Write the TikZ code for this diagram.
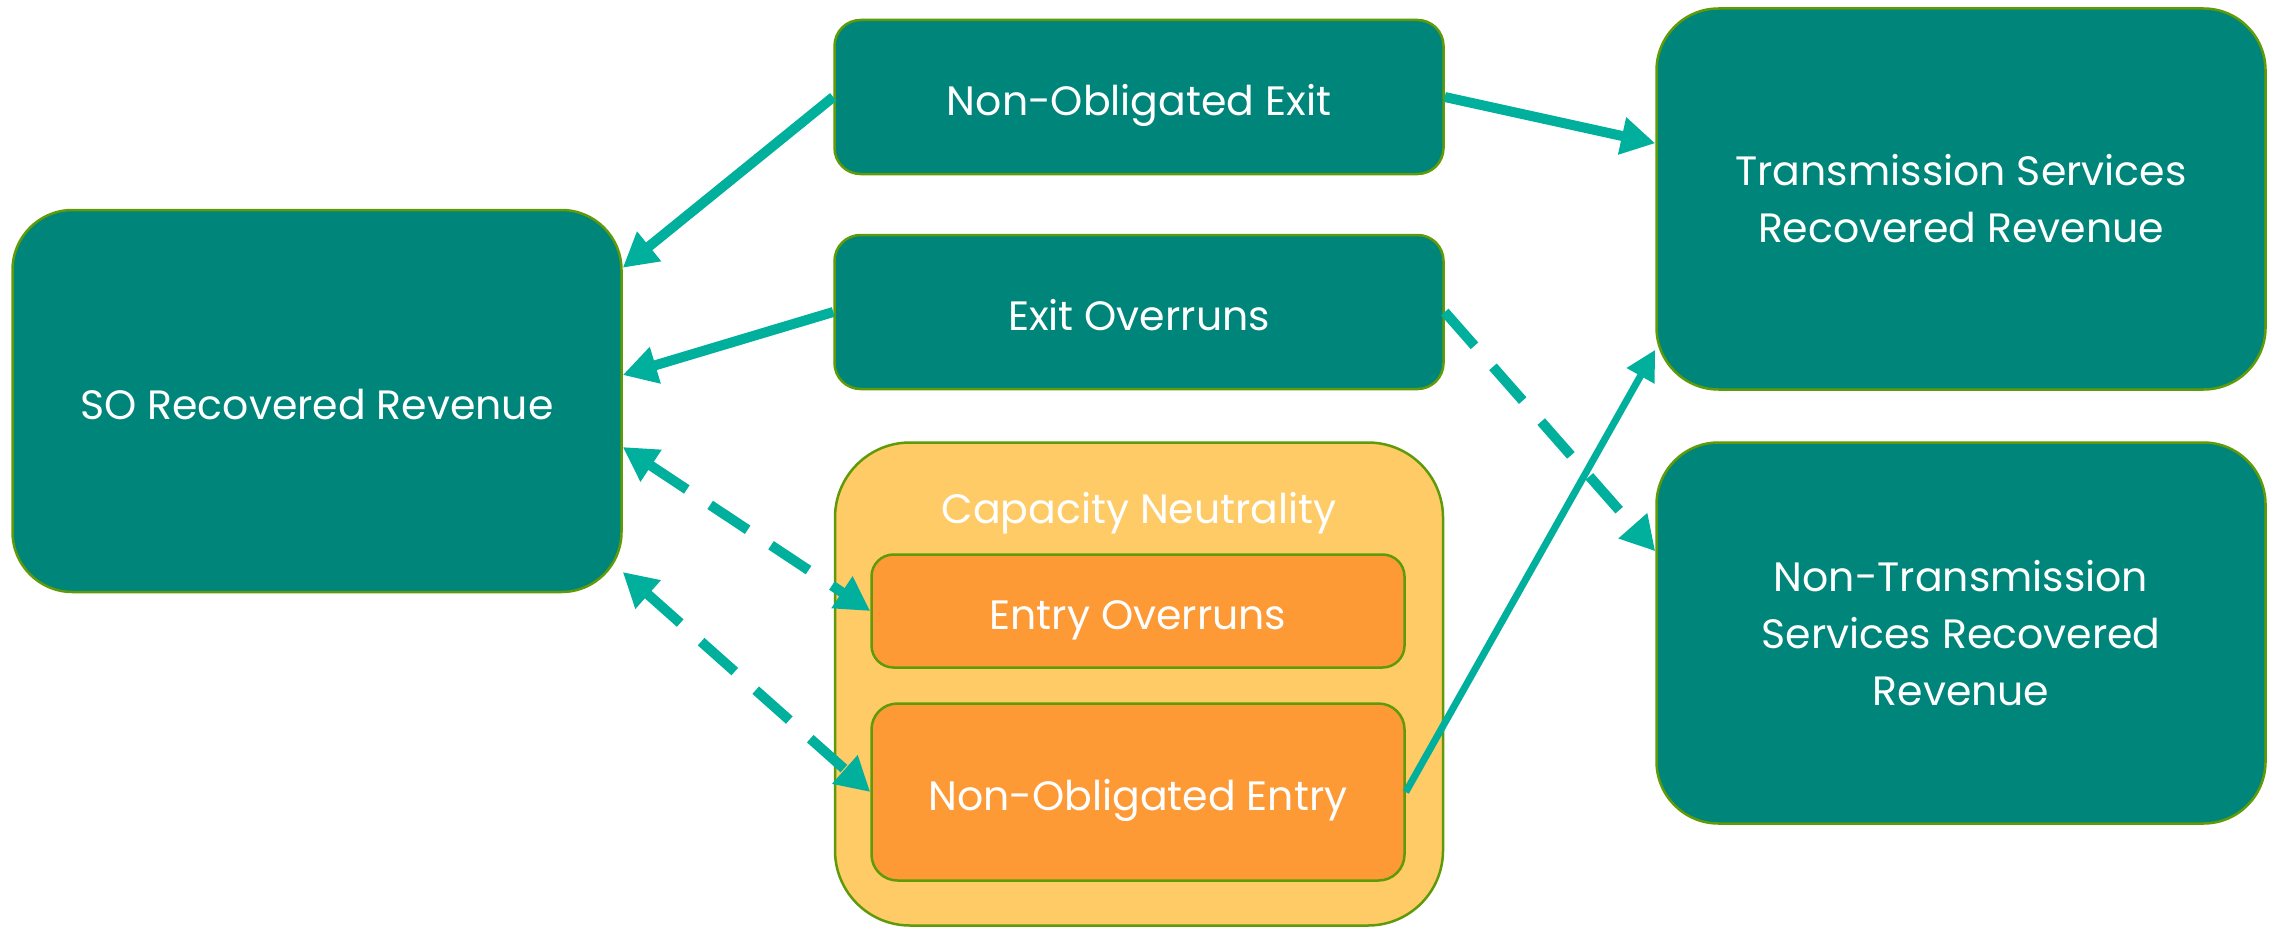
\documentclass[tikz,border=0pt]{standalone}
\usepackage{fontspec}
\setmainfont{Poppins}
\usetikzlibrary{arrows.meta,calc}
\definecolor{tealbox}{HTML}{00857A}
\definecolor{edgegreen}{HTML}{5F9A08}
\definecolor{arrowteal}{HTML}{00B09D}
\definecolor{capfill}{HTML}{FECB66}
\definecolor{orangebox}{HTML}{FE9A36}
\tikzset{
  box/.style={draw=edgegreen, line width=2.5pt, fill=tealbox, text=white, align=center,
    font=\fontsize{41}{57}\selectfont, inner sep=0pt},
  oneline/.style={text height=37pt, text depth=0pt},
  obox/.style={box, fill=orangebox},
  conn/.style={draw=arrowteal, line width=10pt, -{Triangle[length=34pt,width=36pt]}},
  thinconn/.style={draw=arrowteal, line width=7pt, -{Triangle[length=30pt,width=30pt]}},
  dconn/.style={draw=arrowteal, line width=10pt, dash pattern=on 45pt off 28pt,
    {Triangle[length=34pt,width=36pt]}-{Triangle[length=34pt,width=36pt]}},
}
\begin{document}
\begin{tikzpicture}[x=1pt,y=-1pt]
\useasboundingbox (0,0) rectangle (2282,931);
% boxes
\node[box, oneline, rounded corners=60pt, minimum width=609pt, minimum height=382pt] (so) at (317,401) {SO Recovered Revenue};
\node[box, oneline, rounded corners=26pt, minimum width=609pt, minimum height=154pt] (ne) at (1139,97) {Non-Obligated Exit};
\node[box, oneline, rounded corners=26pt, minimum width=609pt, minimum height=154pt] (eo) at (1139,312) {Exit Overruns};
\node[box, fill=capfill, rounded corners=75pt, minimum width=608pt, minimum height=483pt] (cap) at (1139,684) {};
\node[text=white, font=\fontsize{41}{57}\selectfont, inner sep=0pt, oneline] (captitle) at (1139,505) {Capacity Neutrality};
\node[obox, oneline, rounded corners=22pt, minimum width=533pt, minimum height=113pt] (eov) at (1138,611) {Entry Overruns};
\node[obox, oneline, rounded corners=26pt, minimum width=533pt, minimum height=177pt] (noe) at (1138,792) {Non-Obligated Entry};
\node[box, rounded corners=62pt, minimum width=609pt, minimum height=381pt] (tr) at (1961,199) {Transmission Services\\Recovered Revenue};
\node[box, rounded corners=62pt, minimum width=609pt, minimum height=381pt] (ntr) at (1961,633) {Non-Transmission\\Services Recovered\\Revenue};
% connectors
\draw[conn] (ne.west) -- ([yshift=-59pt]so.north east);
\draw[conn] (eo.west) -- ([yshift=26pt]so.east);
\draw[dconn] ([yshift=-46pt]so.east) -- (eov.west);
\draw[dconn] ([yshift=-171pt]so.east) -- (noe.west);
\draw[conn] (ne.east) -- ([yshift=-136pt]tr.north west);
\draw[conn, dash pattern=on 45pt off 28pt] (eo.east) -- ([yshift=-110pt]ntr.north west);
\draw[thinconn] (noe.east) -- ([yshift=41pt]tr.south west);
\end{tikzpicture}
\end{document}
